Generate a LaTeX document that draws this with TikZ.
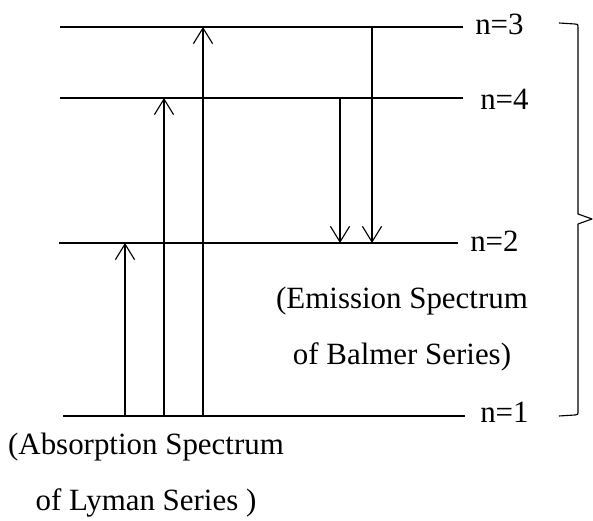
\documentclass[tikz,border=0pt]{standalone}
\usepackage{fontspec}
\setmainfont{Liberation Serif}
\usetikzlibrary{arrows.meta}
\tikzset{
  level/.style={line width=0.8pt},
  trans/.style={line width=0.8pt,-{Straight Barb[length=0.39cm,width=0.48cm]}},
  lbl/.style={anchor=base west,inner sep=0pt},
  note/.style={align=center,inner sep=0pt}
}
\begin{document}
\begin{tikzpicture}[every node/.style={font=\fontsize{22}{40}\selectfont}]
\useasboundingbox (0,0) rectangle (14.825,13.025);
% energy levels
\coordinate (l3a) at (1.5,12.35);   \coordinate (l3b) at (11.575,12.35);
\coordinate (l4a) at (1.5,10.575);  \coordinate (l4b) at (11.575,10.575);
\coordinate (l2a) at (1.475,6.95);  \coordinate (l2b) at (11.45,6.95);
\coordinate (l1a) at (1.575,2.625); \coordinate (l1b) at (11.625,2.625);
\draw[level] (l3a) -- (l3b);
\draw[level] (l4a) -- (l4b);
\draw[level] (l2a) -- (l2b);
\draw[level] (l1a) -- (l1b);
\node[lbl] (n3) at (11.875,12.15) {n=3};
\node[lbl] (n4) at (12.0,10.275) {n=4};
\node[lbl] (n2) at (11.75,6.725) {n=2};
\node[lbl] (n1) at (12.0,2.45) {n=1};
% absorption (up)
\coordinate (ab1) at (3.125,2.625); \coordinate (ae1) at (3.125,6.95);
\coordinate (ab2) at (4.1,2.625);   \coordinate (ae2) at (4.1,10.575);
\coordinate (ab3) at (5.075,2.625); \coordinate (ae3) at (5.075,12.35);
\draw[trans] (ab1) -- (ae1);
\draw[trans] (ab2) -- (ae2);
\draw[trans] (ab3) -- (ae3);
% emission (down)
\coordinate (eb1) at (8.5,10.575); \coordinate (ee1) at (8.5,6.95);
\coordinate (eb2) at (9.3,12.35);  \coordinate (ee2) at (9.3,6.95);
\draw[trans] (eb1) -- (ee1);
\draw[trans] (eb2) -- (ee2);
% brace
\draw[level,line join=round] (13.975,12.45) -- (14.375,12.425)
  .. controls (14.45,12.42) .. (14.45,12.35) -- (14.45,7.675) -- (14.8,7.55)
  -- (14.45,7.425) -- (14.45,2.775) .. controls (14.45,2.65) .. (14.375,2.65)
  -- (13.975,2.625);
\node[note] (emis) at (10.05,4.8) {(Emission Spectrum\\of Balmer Series)};
\node[note] (absp) at (3.65,1.15) {(Absorption Spectrum\\of Lyman Series )};
\end{tikzpicture}
\end{document}
